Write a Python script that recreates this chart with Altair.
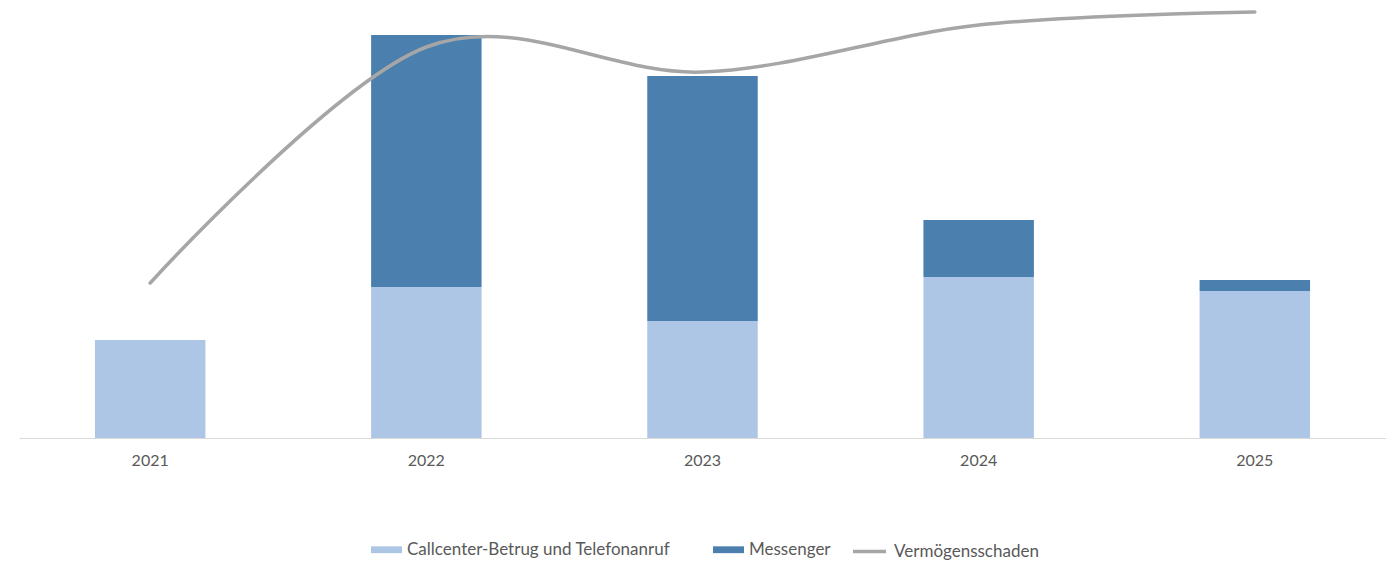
import altair as alt
import pandas as pd

years = ["2021", "2022", "2023", "2024", "2025"]
callcenter = [98, 151, 117, 161, 147]
messenger = [0, 252, 245, 57, 11]
schaden = [155, 391, 366, 413, 426]

cat_call = "Callcenter-Betrug und Telefonanruf"
cat_msg = "Messenger"
cat_line = "Vermögensschaden"

rows = []
for i, y in enumerate(years):
    rows.append({"Jahr": y, "Kategorie": cat_call, "Wert": callcenter[i], "ord": 0})
    rows.append({"Jahr": y, "Kategorie": cat_msg, "Wert": messenger[i], "ord": 1})
bars_df = pd.DataFrame(rows)
line_df = pd.DataFrame({"Jahr": years, "Wert": schaden, "Serie": [cat_line] * len(years)})

FONT = "Lato"

x_enc = alt.X("Jahr:N", sort=years, title=None,
              scale=alt.Scale(paddingInner=0.6, paddingOuter=0.275),
              axis=alt.Axis(labelAngle=0, ticks=False, domainColor="#d9d9d9",
                            domainWidth=1, labelFont=FONT, labelFontSize=16,
                            labelColor="#595959", labelPadding=14, grid=False))
y_scale = alt.Scale(domain=[0, 426], nice=False, zero=True)

leg_common = dict(title=None, orient="none", direction="horizontal",
                  labelFont=FONT, labelFontSize=17, labelColor="#595959",
                  labelLimit=0, padding=0)

bars = alt.Chart(bars_df).mark_bar().encode(
    x=x_enc,
    y=alt.Y("Wert:Q", stack="zero", scale=y_scale, axis=None),
    fill=alt.Fill("Kategorie:N", sort=[cat_call, cat_msg],
                  scale=alt.Scale(domain=[cat_call, cat_msg], range=["#aec6e6", "#4a7fae"]),
                  legend=alt.Legend(symbolType="M-1,-0.22H1V0.22H-1Z", symbolStrokeWidth=0,
                                    symbolSize=961, labelOffset=5, columnPadding=42,
                                    symbolOpacity=1, legendX=352, legendY=522, **leg_common)),
    order=alt.Order("ord:Q"),
)

line = alt.Chart(line_df).mark_line(interpolate="cardinal", strokeWidth=3.5, strokeCap="round").encode(
    x=alt.X("Jahr:N", sort=years),
    y=alt.Y("Wert:Q", scale=y_scale, axis=None),
    stroke=alt.Stroke("Serie:N", scale=alt.Scale(domain=[cat_line], range=["#a6a6a6"]),
                      legend=alt.Legend(symbolType="M-1,0H1", symbolStrokeWidth=3.5,
                                        symbolSize=1089, labelOffset=6,
                                        symbolFillColor="transparent",
                                        legendX=832, legendY=521, **leg_common)),
)

chart = alt.layer(bars, line).properties(
    width=1367, height=426,
    autosize=alt.AutoSizeParams(type="none"),
    padding={"left": 11, "top": 4, "right": 0, "bottom": 125},
).configure(background="white").configure_view(strokeWidth=0)

chart.save("out.html", embed_options={"renderer": "svg", "actions": False})
